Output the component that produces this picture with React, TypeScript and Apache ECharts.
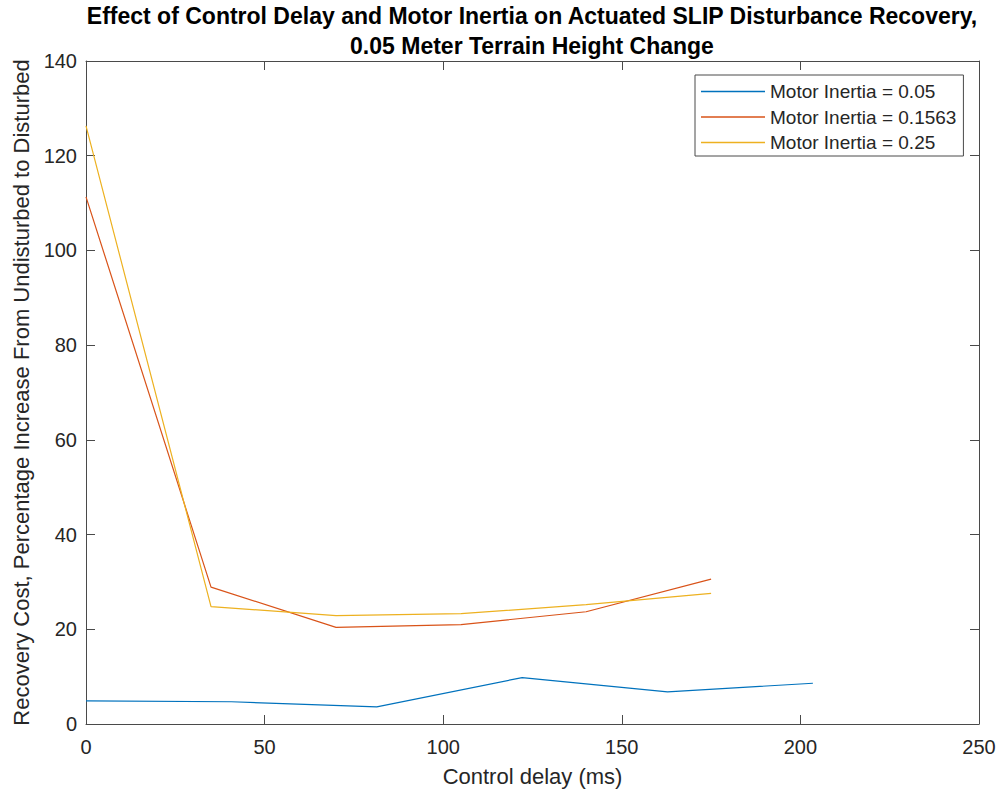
import React, { useEffect, useRef } from "react";
import * as echarts from "echarts";

const titleLines = [
  "Effect of Control Delay and Motor Inertia on Actuated SLIP Disturbance Recovery,",
  "0.05 Meter Terrain Height Change",
];
const xAxisName = "Control delay (ms)";
const yAxisName = "Recovery Cost, Percentage Increase From Undisturbed to Disturbed";

const xTicks = { min: 0, max: 250, interval: 50 };
const yTicks = { min: 0, max: 140, interval: 20 };

const seriesNames = ["Motor Inertia = 0.05", "Motor Inertia = 0.1563", "Motor Inertia = 0.25"];
const seriesColors = ["#0072BD", "#D95319", "#EDB120"];

const delaysLow = [0, 40.7, 81.4, 122.1, 162.8, 203.5];
const costLow = [4.9, 4.7, 3.6, 9.8, 6.8, 8.6];

const delaysMid = [0, 35, 70, 105, 140, 175];
const costMid = [111.3, 28.9, 20.4, 21.0, 23.7, 30.6];

const delaysHigh = [0, 35, 70, 105, 140, 175];
const costHigh = [126.3, 24.8, 22.9, 23.3, 25.2, 27.6];

const FONT = "'Liberation Sans', Arial, Helvetica, sans-serif";
const AXIS_COLOR = "#4a4a4a";
const TEXT_COLOR = "#262626";

function pairs(xs: number[], ys: number[]) {
  return xs.map((x, i) => [x, ys[i]]);
}

export default function App() {
  const ref = useRef<HTMLDivElement>(null);

  useEffect(() => {
    if (!ref.current) return;
    const chart = echarts.init(ref.current, undefined, { renderer: "svg" });

    const tickInside = { show: true, inside: true, length: 9, lineStyle: { color: AXIS_COLOR, width: 1 } };
    const axisLine = { show: true, onZero: false, lineStyle: { color: AXIS_COLOR, width: 1 } };

    const data = [
      pairs(delaysLow, costLow),
      pairs(delaysMid, costMid),
      pairs(delaysHigh, costHigh),
    ];

    chart.setOption({
      animation: false,
      backgroundColor: "#ffffff",
      title: {
        text: titleLines.join("\n"),
        left: 532,
        textAlign: "center",
        top: 1,
        padding: 0,
        textStyle: {
          fontFamily: FONT,
          fontWeight: "bold",
          fontSize: 23,
          lineHeight: 30,
          color: "#000000",
        },
      },
      legend: {
        orient: "vertical",
        left: 695,
        top: 75,
        padding: [7, 7, 4, 6],
        icon: "rect",
        itemWidth: 64,
        itemHeight: 1.3,
        itemGap: 6.5,
        borderColor: AXIS_COLOR,
        borderWidth: 1,
        backgroundColor: "#ffffff",
        data: seriesNames,
        textStyle: {
          fontFamily: FONT,
          fontSize: 19,
          lineHeight: 19,
          color: TEXT_COLOR,
        },
      },
      grid: { left: 86, top: 61, right: 21, bottom: 68, containLabel: false },
      xAxis: [
        {
          type: "value",
          position: "bottom",
          min: xTicks.min,
          max: xTicks.max,
          interval: xTicks.interval,
          name: xAxisName,
          nameLocation: "middle",
          nameGap: 41,
          nameTextStyle: { fontFamily: FONT, fontSize: 22, color: TEXT_COLOR },
          axisLine,
          axisTick: tickInside,
          axisLabel: { fontFamily: FONT, fontSize: 20, color: TEXT_COLOR, margin: 13 },
          splitLine: { show: false },
        },
        {
          type: "value",
          position: "top",
          min: xTicks.min,
          max: xTicks.max,
          interval: xTicks.interval,
          axisLine,
          axisTick: tickInside,
          axisLabel: { show: false },
          splitLine: { show: false },
        },
      ],
      yAxis: [
        {
          type: "value",
          position: "left",
          min: yTicks.min,
          max: yTicks.max,
          interval: yTicks.interval,
          name: yAxisName,
          nameLocation: "middle",
          nameGap: 53,
          nameTextStyle: { fontFamily: FONT, fontSize: 22, color: TEXT_COLOR },
          axisLine,
          axisTick: tickInside,
          axisLabel: { fontFamily: FONT, fontSize: 20, color: TEXT_COLOR, margin: 9 },
          splitLine: { show: false },
        },
        {
          type: "value",
          position: "right",
          min: yTicks.min,
          max: yTicks.max,
          interval: yTicks.interval,
          axisLine,
          axisTick: tickInside,
          axisLabel: { show: false },
          splitLine: { show: false },
        },
      ],
      series: seriesNames.map((name, i) => ({
        name,
        type: "line",
        xAxisIndex: 0,
        yAxisIndex: 0,
        data: data[i],
        showSymbol: false,
        symbol: "none",
        color: seriesColors[i],
        lineStyle: { color: seriesColors[i], width: 1.2 },
        emphasis: { disabled: true },
      })),
    });

    return () => chart.dispose();
  }, []);

  return (
    <div
      ref={ref}
      style={{ position: "fixed", left: 0, top: 0, width: 1000, height: 792, background: "#ffffff" }}
    />
  );
}
